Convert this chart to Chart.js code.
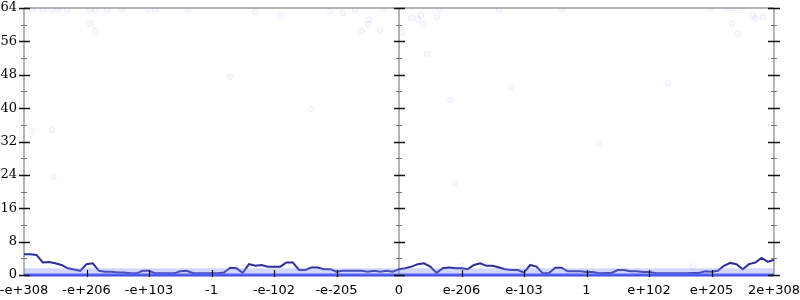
<!DOCTYPE html>
<html>
<head>
<meta charset="utf-8">
<script src="https://cdn.jsdelivr.net/npm/chart.js@4"></script>
<style>
  html, body { margin: 0; padding: 0; background: #fff; }
  #wrap { width: 800px; height: 300px; }
</style>
</head>
<body>
<div id="wrap"><canvas id="chart"></canvas></div>
<script>
// x axis: 12 equal intervals, labelled with float bit-pattern values
const xTickLabels = ['-e+308', '-e+206', '-e+103', '-1', '-e-102', '-e-205', '0',
                     'e-206', 'e-103', '1', 'e+102', 'e+205', '2e+308'];
const yMax = 64;
const yStep = 8;

// smoothed curve, one value every 0.1 x-units
const lineStep = 0.1;
const lineValues = [
  5.0, 5.0, 4.8, 3.0, 3.1, 2.8, 2.4, 1.6, 1.3, 1.0,
  2.6, 2.8, 1.0, 0.8, 0.8, 0.6, 0.6, 0.4, 0.4, 1.0,
  1.0, 0.4, 0.4, 0.4, 0.4, 0.9, 1.0, 0.5, 0.4, 0.4,
  0.4, 0.4, 0.6, 1.75, 1.6, 0.5, 2.6, 2.2, 2.4, 2.0,
  2.0, 2.0, 3.0, 3.0, 1.2, 1.2, 1.8, 1.8, 1.4, 1.4,
  0.8, 1.0, 1.0, 1.0, 1.0, 0.8, 1.0, 0.8, 1.0, 0.8,
  1.4, 1.6, 2.0, 2.6, 2.8, 2.0, 0.5, 1.6, 1.8, 1.6,
  1.6, 1.4, 2.4, 2.8, 2.2, 2.2, 1.8, 1.4, 1.2, 1.2,
  0.6, 2.4, 2.0, 0.4, 0.5, 1.75, 1.75, 0.9, 0.9, 0.9,
  0.7, 0.7, 0.4, 0.5, 0.5, 1.2, 1.2, 0.9, 0.9, 0.7,
  0.7, 0.5, 0.4, 0.4, 0.4, 0.4, 0.4, 0.5, 0.5, 0.9,
  0.8, 1.0, 2.2, 2.9, 2.6, 1.4, 2.6, 3.0, 4.1, 3.2,
  3.6
];

// dense raw samples sit on 0 and in a pale band just above it
const zeroLevel = 0;
const bandLevel = 0.8;

// scattered faint raw samples
const scatterX = [0.13, 0.30, 0.45, 0.54, 0.69, 1.06, 1.14, 1.33, 1.57, 1.98, 2.10, 2.62,
                  0.13, 0.45, 0.47, 1.06, 1.14, 3.3, 3.7, 4.1, 4.6, 4.9, 5.1,
                  5.3, 5.4, 5.5, 5.52, 5.7, 5.75, 6.05, 6.2, 6.3, 6.35, 6.38, 6.45, 6.6, 6.65,
                  6.82, 6.9, 7.0, 7.6, 7.8, 8.6, 9.2, 10.3, 10.7,
                  10.98, 11.26, 11.34, 11.49, 11.66, 11.70, 11.82, 11.33, 11.42];
const scatterY = [63.6, 63.6, 63.6, 63.6, 63.6, 63.6, 63.6, 63.6, 63.6, 63.6, 63.6, 63.6,
                  34.5, 34.8, 23.6, 60.2, 58.6, 47.5, 63.0, 62.0, 39.8, 63.2, 62.8,
                  63.5, 58.5, 60.2, 61.2, 58.8, 63.6, 58.1, 61.6, 61.4, 62.2, 60.2, 53.0, 61.8, 63.6,
                  42.0, 22.0, 2.3, 63.6, 45.0, 63.6, 31.5, 46.0, 2.0,
                  64, 64, 64, 64, 62.2, 61.5, 61.8, 60.2, 57.7];

const lineData = lineValues.map((v, i) => ({ x: i * lineStep, y: v }));
const scatterData = scatterX.map((x, i) => ({ x: x, y: scatterY[i] }));

const axisGrey = '#b4b4b4';

// axes cross the plot at left, middle (x = 0 label) and right; ticks stick out both sides
const axesPlugin = {
  id: 'crossAxes',
  beforeDatasetsDraw(chart) {
    const { ctx, chartArea: a, scales: { x } } = chart;
    const midX = x.getPixelForValue(6);
    ctx.save();
    ctx.strokeStyle = axisGrey;
    ctx.lineWidth = 2;
    ctx.beginPath();
    ctx.moveTo(a.left, a.top); ctx.lineTo(a.right, a.top);
    ctx.moveTo(a.left, a.bottom); ctx.lineTo(a.right, a.bottom);
    [a.left, midX, a.right].forEach(px => {
      ctx.moveTo(px, a.top); ctx.lineTo(px, a.bottom);
    });
    ctx.stroke();
    ctx.restore();
  },
  afterDatasetsDraw(chart) {
    const { ctx, chartArea: a, scales: { x, y } } = chart;
    const axesX = [a.left, x.getPixelForValue(6), a.right];
    ctx.save();
    for (let v = 0; v <= yMax; v += yStep / 2) {
      const py = Math.round(y.getPixelForValue(v)) + 0.5;
      const major = v % yStep === 0;
      ctx.strokeStyle = major ? '#111' : '#777';
      ctx.lineWidth = major ? 1.5 : 1;
      ctx.beginPath();
      axesX.forEach((px, k) => {
        const l = major ? (k === 2 ? 6 : 5) : 3;
        const r = major ? 6 : 3;
        ctx.moveTo(px - l, py); ctx.lineTo(px + r, py);
      });
      ctx.stroke();
    }
    ctx.strokeStyle = '#111';
    ctx.lineWidth = 1.2;
    ctx.beginPath();
    for (let i = 1; i < xTickLabels.length - 1; i++) {
      if (i === 6) continue;
      const px = Math.round(x.getPixelForValue(i)) + 0.5;
      ctx.moveTo(px, a.bottom - 5); ctx.lineTo(px, a.bottom + 2);
    }
    ctx.stroke();

    // tick labels
    ctx.fillStyle = '#000';
    ctx.font = '13px "DejaVu Serif"';
    ctx.textAlign = 'right';
    ctx.textBaseline = 'middle';
    for (let v = 0; v <= yMax; v += yStep) {
      ctx.fillText(String(v), a.left - 7, y.getPixelForValue(v));
    }
    ctx.font = '13px "DejaVu Sans"';
    ctx.textAlign = 'center';
    ctx.textBaseline = 'top';
    xTickLabels.forEach((t, i) => {
      ctx.fillText(t, x.getPixelForValue(i), a.bottom + 9);
    });
    ctx.restore();
  }
};

new Chart(document.getElementById('chart'), {
  type: 'scatter',
  data: {
    datasets: [
      {
        label: 'samples',
        data: scatterData,
        pointRadius: 3,
        pointBackgroundColor: 'rgba(110,120,255,0.05)',
        pointBorderColor: 'rgba(110,120,255,0.09)',
        pointBorderWidth: 1
      },
      {
        label: 'band',
        type: 'line',
        data: [{ x: 0, y: bandLevel }, { x: 12, y: bandLevel }],
        borderColor: 'rgba(130,140,255,0.35)',
        borderWidth: 7,
        pointRadius: 0,
        clip: 6
      },
      {
        label: 'zero',
        type: 'line',
        data: [{ x: 0, y: zeroLevel }, { x: 12, y: zeroLevel }],
        borderColor: 'rgb(65,75,235)',
        borderWidth: 3,
        pointRadius: 0,
        clip: 6
      },
      {
        label: 'average',
        type: 'line',
        data: lineData,
        borderColor: '#2a2c98',
        borderWidth: 2,
        pointRadius: 0,
        tension: 0,
        clip: 4
      }
    ]
  },
  options: {
    responsive: true,
    maintainAspectRatio: false,
    animation: false,
    layout: { padding: { top: 8, right: 26, left: 0, bottom: 0 } },
    plugins: {
      legend: { display: false },
      tooltip: { enabled: false }
    },
    scales: {
      x: {
        type: 'linear',
        min: 0,
        max: 12,
        afterFit: s => { s.height = 25; },
        ticks: { display: false },
        grid: { display: false },
        border: { display: false }
      },
      y: {
        min: 0,
        max: yMax,
        afterFit: s => { s.width = 24; },
        ticks: { display: false, stepSize: yStep },
        grid: { display: false },
        border: { display: false }
      }
    }
  },
  plugins: [axesPlugin]
});
</script>
</body>
</html>
